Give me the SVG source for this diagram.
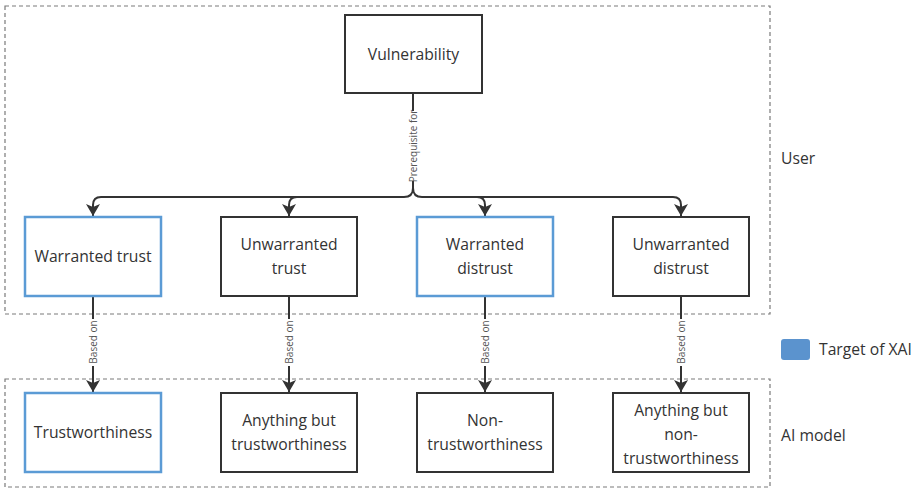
<svg xmlns="http://www.w3.org/2000/svg" width="915" height="488" viewBox="0 0 915 488">
<defs>
<marker id="ah" viewBox="0 0 12 14" refX="12" refY="7" markerWidth="12" markerHeight="14" markerUnits="userSpaceOnUse" orient="auto">
<path d="M0,0 L12,7 L0,14 L3,7 Z" fill="#333"/>
</marker>
<style>
.grp{fill:none;stroke:#7a7a7a;stroke-width:1.2;stroke-dasharray:4,3}
.box{fill:#fff;stroke:#333;stroke-width:2}
.blue{fill:#fff;stroke:#5b9bd5;stroke-width:2.5}
.t{font-family:"Open Sans","Noto Sans",sans-serif;font-size:15.7px;fill:#333;text-anchor:middle}
.side{font-family:"Open Sans","Noto Sans",sans-serif;font-size:15.7px;fill:#333}
.lbl{font-family:"Open Sans","Noto Sans",sans-serif;font-size:10px;fill:#555;text-anchor:middle}
.c{fill:none;stroke:#333;stroke-width:2}
</style>
</defs>
<rect width="915" height="488" fill="#fff"/>
<g id="group-user">
<rect class="grp" x="5" y="6" width="765" height="308"/>
<text class="side" x="781" y="164">User</text>
</g>
<g id="group-ai">
<rect class="grp" x="5" y="379" width="765" height="108"/>
<text class="side" x="781" y="441">AI model</text>
</g>
<g id="legend">
<rect x="781" y="339" width="29" height="21" rx="3" fill="#5b93ce"/>
<text class="side" x="819" y="355">Target of XAI</text>
</g>
<g id="connectors">
<path class="c" d="M413,93 V188 Q413,197 404,197 H101 Q93,197 93,205 V216" marker-end="url(#ah)"/>
<path class="c" d="M413,188 Q413,197 422,197 H673 Q681,197 681,205 V216" marker-end="url(#ah)"/>
<path class="c" d="M297,197 Q289,197 289,205 V216" marker-end="url(#ah)"/>
<path class="c" d="M477,197 Q485,197 485,205 V216" marker-end="url(#ah)"/>
<rect x="406" y="111" width="14" height="70" fill="#fff"/>
<text class="lbl" transform="translate(417,146) rotate(-90)">Prerequisite for</text>
<path class="c" d="M93,296 V392" marker-end="url(#ah)"/>
<path class="c" d="M289,296 V392" marker-end="url(#ah)"/>
<path class="c" d="M485,296 V392" marker-end="url(#ah)"/>
<path class="c" d="M681,296 V392" marker-end="url(#ah)"/>
<g fill="#fff"><rect x="86" y="319" width="14" height="47"/><rect x="282" y="319" width="14" height="47"/><rect x="478" y="319" width="14" height="47"/><rect x="674" y="319" width="14" height="47"/></g>
<text class="lbl" transform="translate(97,342) rotate(-90)">Based on</text>
<text class="lbl" transform="translate(293,342) rotate(-90)">Based on</text>
<text class="lbl" transform="translate(489,342) rotate(-90)">Based on</text>
<text class="lbl" transform="translate(685,342) rotate(-90)">Based on</text>
</g>
<g id="vulnerability">
<rect class="box" x="345" y="15" width="137" height="78"/>
<text class="t" x="413.5" y="60">Vulnerability</text>
</g>
<g id="warranted-trust">
<rect class="blue" x="25" y="217" width="136" height="79"/>
<text class="t" x="93" y="262">Warranted trust</text>
</g>
<g id="unwarranted-trust">
<rect class="box" x="221" y="217" width="136" height="79"/>
<text class="t" x="289" y="250">Unwarranted</text>
<text class="t" x="289" y="274">trust</text>
</g>
<g id="warranted-distrust">
<rect class="blue" x="417" y="217" width="136" height="79"/>
<text class="t" x="485" y="250">Warranted</text>
<text class="t" x="485" y="274">distrust</text>
</g>
<g id="unwarranted-distrust">
<rect class="box" x="613" y="217" width="136" height="79"/>
<text class="t" x="681" y="250">Unwarranted</text>
<text class="t" x="681" y="274">distrust</text>
</g>
<g id="trustworthiness">
<rect class="blue" x="25" y="393" width="136" height="79"/>
<text class="t" x="93" y="438">Trustworthiness</text>
</g>
<g id="anything-but-trustworthiness">
<rect class="box" x="221" y="393" width="136" height="79"/>
<text class="t" x="289" y="426">Anything but</text>
<text class="t" x="289" y="450">trustworthiness</text>
</g>
<g id="non-trustworthiness">
<rect class="box" x="417" y="393" width="136" height="79"/>
<text class="t" x="485" y="426">Non-</text>
<text class="t" x="485" y="450">trustworthiness</text>
</g>
<g id="anything-but-non-trustworthiness">
<rect class="box" x="613" y="393" width="136" height="79"/>
<text class="t" x="681" y="416">Anything but</text>
<text class="t" x="681" y="440">non-</text>
<text class="t" x="681" y="464">trustworthiness</text>
</g>
</svg>
